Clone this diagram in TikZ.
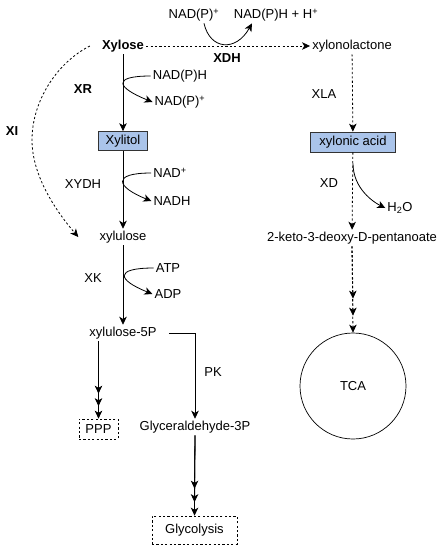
\documentclass[tikz,border=0pt]{standalone}
\usepackage{fontspec}
\setmainfont{Liberation Sans}
\usepackage{tikz}
\usetikzlibrary{arrows.meta,positioning,calc}
\definecolor{boxblue}{RGB}{170,196,234}
\tikzset{
  box/.style={draw=black!80,fill=#1,minimum height=19pt,inner sep=2pt,line width=0.7pt},
  box/.default={boxblue},
  dbox/.style={draw,dash pattern=on 2.2pt off 2.2pt,line width=0.7pt,inner sep=3pt},
  arr/.style={-{Stealth[length=8pt,width=7.5pt,inset=2.2pt]},line width=0.8pt},
  darr/.style={arr,dash pattern=on 2.2pt off 2.2pt},
  enz/.style={font=\fontsize{13}{15}\selectfont\bfseries},
}
\begin{document}
\begin{tikzpicture}[x=1pt,y=1pt,every node/.style={font=\fontsize{13}{15}\selectfont,inner sep=2pt}]
 \useasboundingbox (0,0) rectangle (447,-550);
 \node[enz] (xyl) at (123,-46){Xylose};
 \node (nadpp) at (194,-15){NAD(P)\textsuperscript{+}}; \node (nadphh) at (276,-15){NAD(P)H + H\textsuperscript{+}};
 \node[enz] (xdh) at (227,-58){XDH}; \node (xlac) at (352,-46){xylonolactone};
 \draw[darr](xyl)--(xlac);
 \draw[arr]([xshift=10pt]nadpp.south) .. controls (210,-50) and (236,-52) .. ([xshift=-24pt]nadphh.south);
 \node[enz] (xr) at (83,-89){XR}; \node[enz] (xi) at (12,-131){XI};
 \node (nadph1) at (180,-76){NAD(P)H}; \node (nadp1) at (180,-102){NAD(P)\textsuperscript{+}};
 \node[box,minimum width=49pt] (xylitol) at (123,-141){Xylitol};
 \draw[arr](xyl)--(xylitol);
 \draw[arr](nadph1.west) .. controls +(-40,0) and +(-35,14) .. (nadp1.west);
 \node (xydh) at (83,-184){XYDH}; \node (nad) at (170,-173){NAD\textsuperscript{+}}; \node (nadh) at (172,-201){NADH};
 \node (xylu) at (123,-237){xylulose};
 \draw[arr](xylitol)--(xylu);
 \draw[arr](nad.west) .. controls +(-40,0) and +(-35,14) .. (nadh.west);
 \draw[darr]([xshift=-10pt]xyl.west) .. controls (58,-62) and (32,-100) .. (32,-140) .. controls (32,-175) and (55,-210) .. ([xshift=-19pt]xylu.west);
 \node (xk) at (93,-278){XK}; \node (atp) at (168,-268){ATP}; \node (adp) at (168,-294){ADP};
 \node (x5p) at (123,-333){xylulose-5P};
 \draw[arr](xylu)--(x5p);
 \draw[arr](atp.west) .. controls +(-40,0) and +(-35,14) .. (adp.west);
 \node[dbox,minimum width=39pt,minimum height=20pt] (ppp) at (98.5,-429){PPP};
 \node (gap) at (195,-427){Glyceraldehyde-3P}; \node (pk) at (213,-372){PK};
 \node[dbox,minimum width=85pt,minimum height=28pt] (glyc) at (194.5,-530){Glycolysis};
 \foreach \d in {0,12.5,25} \draw[arr](ppp.north|-x5p.south)--([yshift=\d pt]ppp.north);
 \draw[arr]([xshift=10pt]x5p.east)-|(gap.north);
 \foreach \d in {0,13.5,27} \draw[arr](gap.south)--([yshift=\d pt]glyc.north);
 \node[box,minimum width=85pt,minimum height=20pt] (xacid) at (353,-142){xylonic acid};
 \node (xla) at (324,-94){XLA};
 \draw[darr](xlac)--(xacid);
 \node (xd) at (329,-183){XD}; \node (h2o) at (400,-208){H\textsubscript{2}O};
 \node (kdp) at (352,-238){2-keto-3-deoxy-D-pentanoate};
 \draw[darr](xacid)--(kdp);
 \draw[arr]([yshift=-11pt]xacid.south) .. controls +(0,-25) and +(-12,6) .. (h2o.west);
 \node[draw,circle,line width=0.7pt,minimum size=106pt] (tca) at (353,-386){TCA};
 \foreach \d in {0,17,34} \draw[darr](kdp.south)--([yshift=\d pt]tca.north);
\end{tikzpicture}
\end{document}
